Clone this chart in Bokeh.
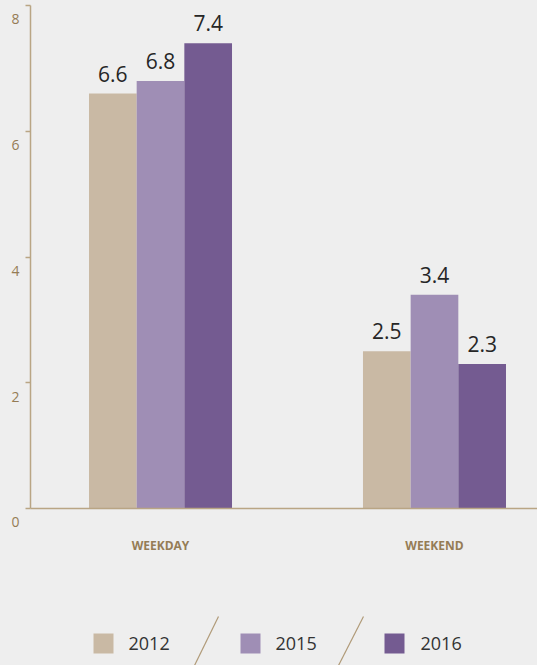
from bokeh.plotting import figure
from bokeh.layouts import column
from bokeh.models import Range1d, FixedTicker, ColumnDataSource
from bokeh.core.properties import value
from bokeh.embed import file_html
from bokeh.resources import INLINE

# Data
categories = ["WEEKDAY", "WEEKEND"]
years = ["2012", "2015", "2016"]
values_2012 = [6.6, 2.5]
values_2015 = [6.8, 3.4]
values_2016 = [7.4, 2.3]
y_ticks = [0, 2, 4, 6, 8]

series = [values_2012, values_2015, values_2016]
colors = ["#c9b9a4", "#9f8eb5", "#745b91"]

BG = "#eeeeee"
AXIS = "#b9a584"
TICK_TEXT = "#957c55"
FONT = "Open Sans"

# extra headroom above the frame (scrolled off by the layout's negative margin)
HEAD = 25

p = figure(
    width=537, height=590 + HEAD,
    x_range=Range1d(0.0255, 1.876), y_range=Range1d(0, 8),
    output_backend="svg", toolbar_location=None,
    min_border_top=5 + HEAD, min_border_bottom=82, min_border_left=30, min_border_right=0,
    background_fill_color=BG, border_fill_color=BG,
)
p.outline_line_color = None
p.xgrid.visible = False
p.ygrid.visible = False

bar_w = 0.174
for j, (yr, vals, col) in enumerate(zip(years, series, colors)):
    xs = [i + 0.5 + (j - 1) * bar_w for i in range(len(categories))]
    src = ColumnDataSource(dict(x=xs, top=vals, label=[f"{v:.1f}" for v in vals]))
    p.vbar(x="x", top="top", width=bar_w, bottom=0, source=src,
           fill_color=col, line_color=None)
    p.text(x="x", y="top", text="label", source=src,
           text_align="center", text_baseline="bottom", y_offset=-12,
           text_font=value(FONT), text_font_size="21px", text_color="#262626")

# Y axis: labels sit on a second line so they hang just below each tick
p.yaxis.ticker = FixedTicker(ticks=y_ticks)
p.yaxis.major_label_overrides = {v: "\n" + str(v) for v in y_ticks}
p.yaxis.major_label_text_line_height = 1.4
p.yaxis.axis_line_color = AXIS
p.yaxis.axis_line_width = 1.5
p.yaxis.major_tick_line_color = AXIS
p.yaxis.major_tick_line_width = 1.5
p.yaxis.major_tick_out = 5
p.yaxis.major_tick_in = 0
p.yaxis.minor_tick_line_color = None
p.yaxis.major_label_standoff = 6
p.yaxis.major_label_text_font = FONT
p.yaxis.major_label_text_font_size = "14px"
p.yaxis.major_label_text_color = TICK_TEXT

# X axis
centers = [i + 0.5 for i in range(len(categories))]
p.xaxis.ticker = FixedTicker(ticks=centers)
p.xaxis.major_label_overrides = {c: name for c, name in zip(centers, categories)}
p.xaxis.axis_line_color = AXIS
p.xaxis.axis_line_width = 1.5
p.xaxis.major_tick_line_color = None
p.xaxis.minor_tick_line_color = None
p.xaxis.major_tick_out = 0
p.xaxis.major_tick_in = 0
p.xaxis.major_label_standoff = 28
p.xaxis.major_label_text_font = FONT
p.xaxis.major_label_text_font_size = "12px"
p.xaxis.major_label_text_font_style = "bold"
p.xaxis.major_label_text_color = TICK_TEXT

# Legend strip with slashes between entries (its frame lines up with the chart's)
lg = figure(
    width=537, height=75,
    x_range=Range1d(30, 537), y_range=Range1d(665, 590),
    x_axis_type=None, y_axis_type=None,
    output_backend="svg", toolbar_location=None,
    min_border=0, min_border_left=30, min_border_right=0,
    min_border_top=0, min_border_bottom=0,
    background_fill_color=BG, border_fill_color=BG,
)
lg.outline_line_color = None
lg.grid.visible = False
sq_x = [103, 250, 394]
txt_x = [128, 275, 420]
lg.rect(x=sq_x, y=[643] * 3, width=20, height=20, fill_color=colors, line_color=None)
lg.text(x=txt_x, y=[643] * 3, text=years, text_align="left", text_baseline="middle",
        text_font=value(FONT), text_font_size="18px", text_color="#333333")
lg.segment(x0=[218, 363], y0=[616, 616], x1=[194, 338], y1=[665, 665],
           line_color="#b09a78", line_width=1.2)

layout = column(p, lg, spacing=0,
                styles={"background-color": BG, "margin-top": f"-{HEAD}px"})
open("out.html", "w").write(file_html(layout, INLINE))
